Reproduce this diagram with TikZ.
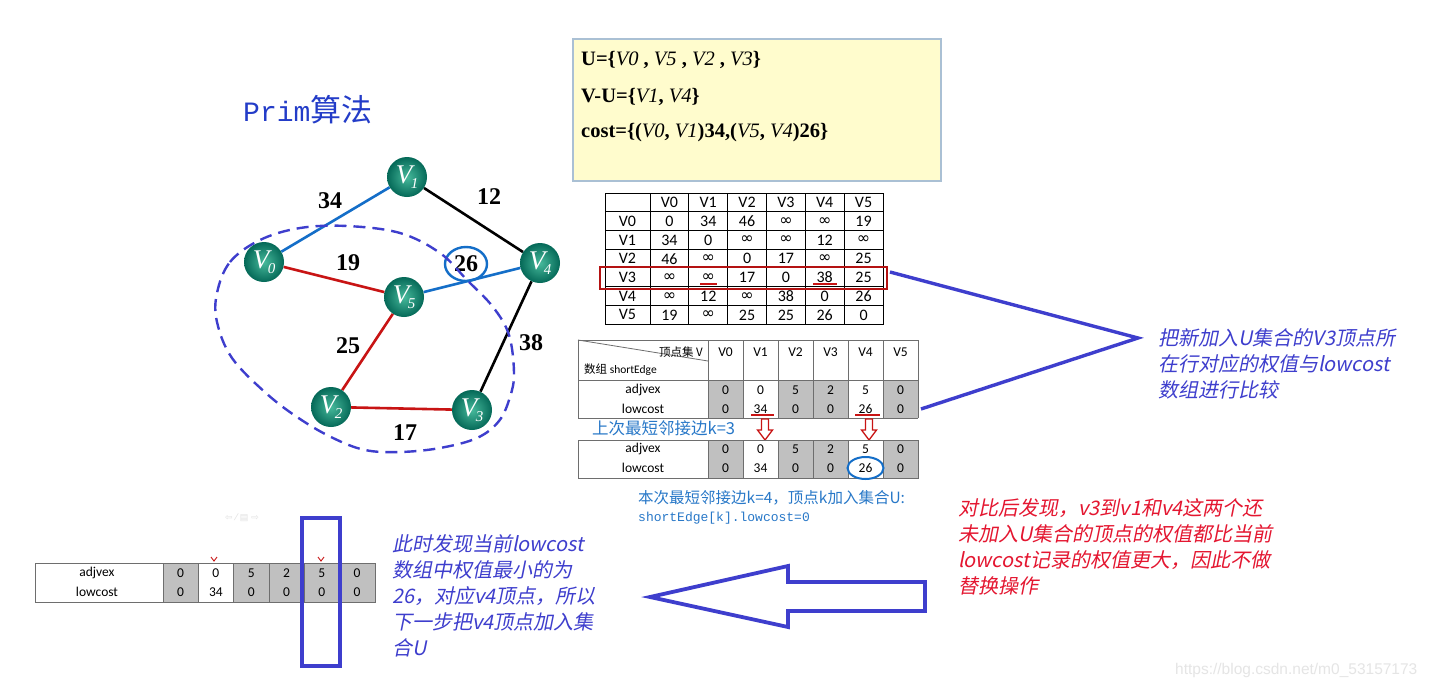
\documentclass[tikz,border=0pt]{standalone}
\usepackage{fontspec}
\setmainfont{Liberation Serif}
\newfontfamily\cjk{Noto Sans CJK SC}
\newfontfamily\cjksl[FakeSlant=0.2]{Noto Sans CJK SC}
\newfontfamily\calib{Carlito}
\newfontfamily\monof{Liberation Mono}
\newfontfamily\symf{DejaVu Sans}
\newfontfamily\sansf{Liberation Sans}
\usetikzlibrary{backgrounds,calc}
\definecolor{vin}{RGB}{70,185,155}
\definecolor{vout}{RGB}{5,105,88}
\definecolor{eblue}{RGB}{20,110,200}
\definecolor{ered}{RGB}{200,20,20}
\definecolor{ablue}{RGB}{62,62,205}
\definecolor{titleblue}{RGB}{35,60,200}
\definecolor{tblue}{RGB}{40,120,200}
\definecolor{rtext}{RGB}{228,22,48}
\definecolor{boxfill}{RGB}{255,252,205}
\definecolor{boxedge}{RGB}{170,192,212}
\definecolor{cellgray}{RGB}{192,192,192}
\definecolor{gridc}{RGB}{110,110,110}
\newcommand\infy{{\symf\fontsize{16}{16}\selectfont ∞}}
\newcommand\vlab[2]{V\kern-1.5pt\raisebox{-5pt}{\fontsize{15}{15}\selectfont #1}}
\tikzset{
  vtx/.style={circle, minimum size=40pt, inner sep=0pt, shading=radial, inner color=vin, outer color=vout, text=white, font=\fontsize{27}{27}\selectfont\itshape},
  wlab/.style={font=\fontsize{24}{24}\selectfont\bfseries, inner sep=0pt},
  edgeb/.style={eblue, line width=2.6pt},
  edger/.style={ered, line width=2.6pt},
  edgek/.style={black, line width=2.6pt},
  mcell/.style={font=\calib\fontsize{16}{16}\selectfont, inner sep=0pt},
  scell/.style={font=\calib\fontsize{13.5}{14}\selectfont, inner sep=0pt},
  note/.style={anchor=north west, align=left, inner sep=0pt, font=\cjksl\fontsize{20}{26.2}\selectfont},
}
\begin{document}
\begin{tikzpicture}[x=1pt,y=-1pt]
\useasboundingbox (0,0) rectangle (1432,689);
\begin{scope}[on background layer]
\fill[white] (0,0) rectangle (1432,689);
\end{scope}

% title
\node[anchor=west, inner sep=0pt, text=titleblue] (title) at (243,110) {\monof\fontsize{28}{28}\selectfont Prim\cjk\fontsize{31}{31}\selectfont 算法};

% graph
\node[vtx] (v1) at (407,177) {\vlab{1}{}};
\node[vtx] (v0) at (264,262) {\vlab{0}{}};
\node[vtx] (v5) at (404,297) {\vlab{5}{}};
\node[vtx] (v4) at (540,263) {\vlab{4}{}};
\node[vtx] (v2) at (331,407) {\vlab{2}{}};
\node[vtx] (v3) at (472,410) {\vlab{3}{}};
\begin{scope}[on background layer]
\draw[edgeb] (v0) -- (v1);
\draw[edgek] (v1) -- (v4);
\draw[edger] (v0) -- (v5);
\draw[edgeb] (v5) -- (v4);
\draw[edger] (v5) -- (v2);
\draw[edger] (v2) -- (v3);
\draw[edgek] (v4) -- (v3);
\end{scope}
\node[wlab] (w34) at (330,201) {34};
\node[wlab] (w12) at (489,197) {12};
\node[wlab] (w19) at (348,263) {19};
\node[wlab] (w26) at (466,264) {26};
\node[wlab] (w25) at (348,346) {25};
\node[wlab] (w38) at (531,343) {38};
\node[wlab] (w17) at (405,433) {17};
\draw[eblue, line width=2.4pt] (w26) ellipse [x radius=21pt, y radius=17pt];
\draw[ablue, line width=2.4pt, dash pattern=on 12pt off 7pt]
  plot[smooth cycle, tension=0.6] coordinates {(217,293) (230,262) (260,240) (300,228) (347,226) (400,233) (440,253) (467,280) (493,307) (509,335) (514,373) (510,397) (499,421) (477,438) (440,448) (400,452) (365,450) (333,438) (300,419) (267,394) (232,358) (217,322)};

% top yellow box
\draw[boxedge, fill=boxfill, line width=1.2pt] (573,39) rectangle (941,181);
\begin{scope}[every node/.style={anchor=west, inner sep=0pt, font=\fontsize{20.5}{20.5}\selectfont}]
\node (u1) at (581,60) {\textbf{U=\{}\textit{V0} \textbf{,} \textit{V5} \textbf{,} \textit{V2} \textbf{,} \textit{V3}\textbf{\}}};
\node (u2) at (581,97) {\textbf{V-U=\{}\textit{V1}\textbf{,} \textit{V4}\textbf{\}}};
\node (u3) at (581,133) {\textbf{cost=\{(}\textit{V0}\textbf{,} \textit{V1}\textbf{)34,(}\textit{V5}\textbf{,} \textit{V4}\textbf{)26\}}};
\end{scope}

% adjacency matrix
\draw[black, line width=1pt] (605,193) rectangle (883,324);
\foreach \i in {1,...,6} \draw[black, line width=0.9pt] (605,193+18.71*\i) -- (883,193+18.71*\i);
\foreach \k in {0,...,5} \draw[black, line width=0.9pt] (650+38.83*\k,193) -- (650+38.83*\k,324);
\foreach [count=\r from 0] \row in {{{},V0,V1,V2,V3,V4,V5},{V0,0,34,46,\infy,\infy,19},{V1,34,0,\infy,\infy,12,\infy},{V2,46,\infy,0,17,\infy,25},{V3,\infy,\infy,17,0,38,25},{V4,\infy,12,\infy,38,0,26},{V5,19,\infy,25,25,26,0}}{
  \foreach [count=\c from 0] \cell in \row {
    \pgfmathsetmacro\cx{\c==0 ? 627.5 : 650+38.83*(\c-0.5)}
    \node[mcell] (m-\r-\c) at (\cx,193+18.71*\r+9.6) {\cell};
  }
}
\draw[ered!90!black, line width=1.6pt] (600,267) rectangle (887,289);
\draw[ered, line width=1.6pt] (700,284) -- (717,284);
\draw[ered, line width=1.6pt] (813,284) -- (837,284);
\coordinate (la) at (890,272);
\coordinate (tipR) at (1138,338);
\coordinate (lb) at (921,409);
\draw[ablue, line width=3.4pt, line join=miter] (la) -- (tipR) -- (lb);

% shortEdge table 1
\foreach \k in {0,2,3,5} \fill[cellgray] (708+35*\k,380) rectangle (743+35*\k,418);
\draw[gridc, line width=0.8pt] (578,340) -- (918,340) (578,380) -- (918,380) (578,418) -- (918,418);
\foreach \k in {0,...,6} \draw[gridc, line width=0.8pt] (708+35*\k,340) -- (708+35*\k,418);
\draw[gridc, line width=0.8pt] (578,340) -- (578,418);
\draw[gridc, line width=0.8pt] (578,340) -- (708,361);
\node[anchor=east, inner sep=0pt, font=\cjk\fontsize{11.5}{12}\selectfont] (hv) at (703,352) {顶点集 V};
\node[anchor=west, inner sep=0pt, font=\cjk\fontsize{11.5}{12}\selectfont] (hs) at (584,370) {数组 \calib shortEdge};
\foreach [count=\c from 0] \h in {V0,V1,V2,V3,V4,V5} \node[scell] (sh-\c) at (725.5+35*\c,352) {\h};
\node[scell] (sa-l) at (643,390) {adjvex};
\node[scell] (sl-l) at (643,409) {lowcost};
\foreach [count=\c from 0] \a/\b in {0/0,0/34,5/0,2/0,5/26,0/0} {
  \node[scell] (sa-\c) at (725.5+35*\c,390) {\a};
  \node[scell] (sl-\c) at (725.5+35*\c,409) {\b};
}
\draw[ered, line width=1.5pt] (751,415) -- (774,415);
\draw[ered, line width=1.5pt] (855,415) -- (880,415);
\foreach \ax in {765,869} \draw[ered, line width=1.3pt, line join=miter] (\ax-3.5,419) -- (\ax+3.5,419) -- (\ax+3.5,430) -- (\ax+7.5,430) -- (\ax,440) -- (\ax-7.5,430) -- (\ax-3.5,430) -- cycle;
\node[anchor=west, inner sep=0pt, text=tblue, font=\cjk\fontsize{16.5}{17}\selectfont] (k3) at (592,428) {上次最短邻接边k=3};

% shortEdge table 2
\foreach \k in {0,2,3,5} \fill[cellgray] (708+35*\k,440) rectangle (743+35*\k,478);
\draw[gridc, line width=0.8pt] (578,440) rectangle (918,478);
\foreach \k in {0,...,6} \draw[gridc, line width=0.8pt] (708+35*\k,440) -- (708+35*\k,478);
\node[scell] (ta-l) at (643,449) {adjvex};
\node[scell] (tl-l) at (643,468) {lowcost};
\foreach [count=\c from 0] \a/\b in {0/0,0/34,5/0,2/0,5/26,0/0} {
  \node[scell] (ta-\c) at (725.5+35*\c,449) {\a};
  \node[scell] (tl-\c) at (725.5+35*\c,468) {\b};
}
\draw[eblue, line width=2pt] (tl-4) ellipse [x radius=18pt, y radius=11pt];
\node[anchor=west, inner sep=0pt, text=tblue, font=\cjk\fontsize{15.5}{16}\selectfont] (k4) at (638,498) {本次最短邻接边k=4，顶点k加入集合U:};
\node[anchor=west, inner sep=0pt, text=tblue, font=\monof\fontsize{13}{14}\selectfont] (k4b) at (638,518) {shortEdge[k].lowcost=0};

% annotations
\node[note, text=ablue] (n1) at (1158,328) {把新加入U集合的V3顶点所\\在行对应的权值与lowcost\\数组进行比较};
\node[note, text=rtext] (n2) at (958,498) {对比后发现，v3到v1和v4这两个还\\未加入U集合的顶点的权值都比当前\\lowcost记录的权值更大，因此不做\\替换操作};
\node[note, text=ablue] (n3) at (392,534) {此时发现当前lowcost\\数组中权值最小的为\\26，对应v4顶点，所以\\下一步把v4顶点加入集\\合U};

% bottom-left table
\foreach \k in {0,2,3,4,5} \fill[cellgray] (163+35.3*\k,563) rectangle (198.3+35.3*\k,602);
\draw[gridc, line width=0.8pt] (35,563) rectangle (375,602);
\foreach \k in {0,...,5} \draw[gridc, line width=0.8pt] (163+35.3*\k,563) -- (163+35.3*\k,602);
\node[scell] (ba-l) at (97,573) {adjvex};
\node[scell] (bl-l) at (97,592) {lowcost};
\foreach [count=\c from 0] \a/\b in {0/0,0/34,5/0,2/0,5/0,0/0} {
  \node[scell] (ba-\c) at (180.6+35.3*\c,573) {\a};
  \node[scell] (bl-\c) at (180.6+35.3*\c,592) {\b};
}
\draw[ered, line width=0.9pt] (211,557) -- (214,561) -- (217,557);
\draw[ered, line width=0.9pt] (318,557) -- (321,561) -- (324,557);
\node[inner sep=0pt, text=black!12, font=\symf\fontsize{9}{9}\selectfont] (tools) at (242,518) {⇦ ⁄ ▤ ⇨};
\draw[ablue, line width=4.5pt] (302,518) rectangle (340,666);

% big hollow arrow
\draw[ablue, line width=3.8pt, line join=miter] (650,597) -- (788,566) -- (788,582) -- (925,582) -- (925,611) -- (788,611) -- (788,627) -- cycle;

% watermark
\node[anchor=west, inner sep=0pt, text=black!10, font=\sansf\fontsize{15.5}{16}\selectfont] (wm) at (1175,670) {https://blog.csdn.net/m0\_53157173};
\end{tikzpicture}
\end{document}
